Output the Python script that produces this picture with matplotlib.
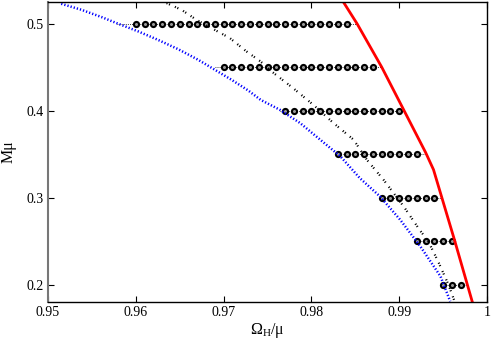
import matplotlib
matplotlib.use('Agg')
import matplotlib.pyplot as plt
import numpy as np

plt.rcParams['font.family'] = ['Liberation Serif', 'DejaVu Serif']
plt.rcParams['mathtext.fontset'] = 'custom'
plt.rcParams['mathtext.rm'] = 'Liberation Serif'
plt.rcParams['mathtext.it'] = 'Liberation Serif:italic'

# rows of solutions (M mu, Omega_H/mu start, end), step 0.001
rows_m = [0.50, 0.45, 0.40, 0.35, 0.30, 0.25, 0.20]
rows_start = [0.960, 0.970, 0.977, 0.983, 0.988, 0.992, 0.995]
rows_end = [0.984, 0.987, 0.990, 0.992, 0.994, 0.996, 0.997]
# thin connecting line from blue curve to red curve
rows_left = [0.9578, 0.9690, 0.9764, 0.9836, 0.9879, 0.9919, 0.9950]
rows_right = [0.9852, 0.9880, 0.9905, 0.9929, 0.9948, 0.9963, 0.9977]

# blue dotted curve
blue_x = [0.9515, 0.9538, 0.9561, 0.9580, 0.9603, 0.9625, 0.9648, 0.9671,
          0.9690, 0.9709, 0.9728, 0.9742, 0.9764, 0.9787, 0.9810, 0.9833,
          0.9855, 0.9878, 0.9901, 0.9924, 0.9947, 0.9958]
blue_y = [0.5230, 0.5161, 0.5077, 0.5000, 0.4911, 0.4816, 0.4709, 0.4586,
          0.4471, 0.4356, 0.4233, 0.4126, 0.4011, 0.3859, 0.3667, 0.3475,
          0.3226, 0.3015, 0.2747, 0.2440, 0.2095, 0.1808]

# black dash-dot curve
black_x = [0.9635, 0.9652, 0.9669, 0.9686, 0.9707, 0.9726, 0.9742, 0.9757,
           0.9779, 0.9802, 0.9825, 0.9848, 0.9863, 0.9882, 0.9905, 0.9923,
           0.9933, 0.9945, 0.9956, 0.9963]
black_y = [0.5238, 0.5161, 0.5046, 0.4951, 0.4836, 0.4682, 0.4567, 0.4433,
           0.4261, 0.4069, 0.3859, 0.3667, 0.3437, 0.3207, 0.2900, 0.2632,
           0.2500, 0.2250, 0.2000, 0.1808]

# red solid curve
red_x = [0.9836, 0.9852, 0.9880, 0.9905, 0.9930, 0.9939, 0.9963, 0.9983]
red_y = [0.5256, 0.5000, 0.4502, 0.4011, 0.3520, 0.3322, 0.2510, 0.1808]

fig = plt.figure(figsize=(4.95, 3.39), dpi=100)
ax = fig.add_axes([0.097, 0.109, 0.887, 0.885])

for m, a, b, l, r in zip(rows_m, rows_start, rows_end, rows_left, rows_right):
    ax.plot([l, r], [m, m], color='black', lw=0.6, ls=(0, (1, 1.5)))
    xs = np.arange(round((b - a) / 0.001) + 1) * 0.001 + a
    ax.plot(xs, np.full(len(xs), m), ls='none', marker='o', ms=3.7,
            mfc='#999999', mec='black', mew=1.5)

ax.plot(blue_x, blue_y, color='blue', lw=1.8, ls=(0, (0.5, 0.8)))
ax.plot(black_x, black_y, color='black', lw=1.6, ls=(0, (0.5, 0.7, 0.5, 2.4)))
ax.plot(red_x, red_y, color='red', lw=2.0)

ax.set_xlim(0.95, 1.0)
ax.set_ylim(0.18, 0.525)
ax.set_xticks([0.95, 0.96, 0.97, 0.98, 0.99, 1.0])
ax.set_xticklabels(['0.95', '0.96', '0.97', '0.98', '0.99', '1'])
ax.set_yticks([0.2, 0.3, 0.4, 0.5])
ax.set_yticklabels(['0.2', '0.3', '0.4', '0.5'])
ax.tick_params(direction='in', top=True, right=True, length=4, width=0.8,
               labelsize=10, pad=3)
for s in ax.spines.values():
    s.set_linewidth(1.0)
ax.spines['left'].set_color('#777777')
ax.spines['left'].set_linewidth(1.5)

ax.set_xlabel('Ω$_{\\mathrm{H}}$/μ', fontsize=11.5, labelpad=1)
ax.set_ylabel('Mμ', fontsize=11.5, labelpad=7)

fig.savefig('out.png', dpi=100)
